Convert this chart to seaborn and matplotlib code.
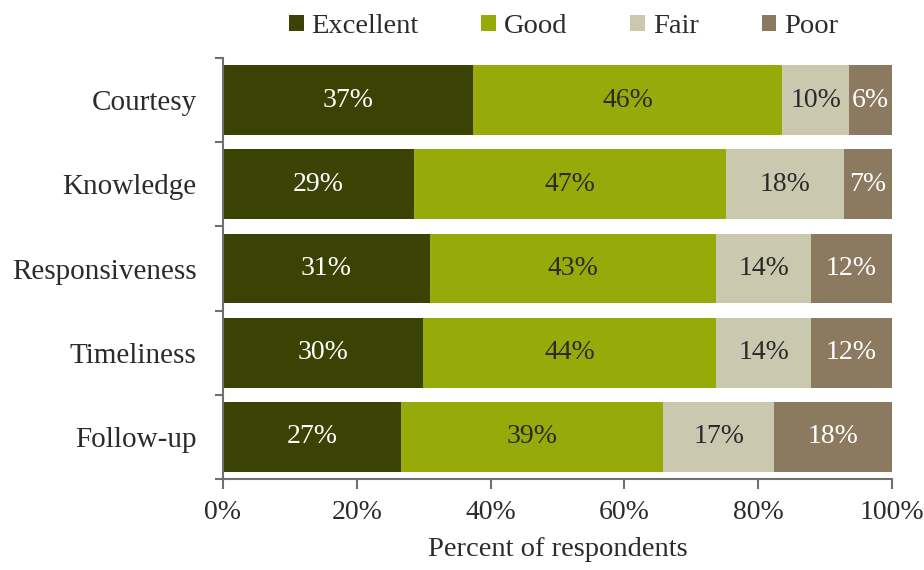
import matplotlib
matplotlib.use("Agg")
import matplotlib.pyplot as plt
from matplotlib.patches import Patch
from matplotlib.ticker import FixedLocator, PercentFormatter
import numpy as np
import pandas as pd
import seaborn as sns

# Survey ratings, percent of respondents
aspects = ["Courtesy", "Knowledge", "Responsiveness", "Timeliness", "Follow-up"]
ratings = ["Excellent", "Good", "Fair", "Poor"]
excellent = [37.4, 28.6, 30.9, 29.9, 26.6]
good = [46.2, 46.6, 42.8, 43.8, 39.2]
fair = [10.0, 17.6, 14.2, 14.2, 16.6]
poor = [6.4, 7.2, 12.1, 12.1, 17.6]
x_ticks = [0, 20, 40, 60, 80, 100]

colors = ["#3B4304", "#96AB0A", "#CAC8AF", "#8C7A60"]
label_colors = ["white", "#2b2b2b", "#2b2b2b", "white"]

sns.set_theme(style="white")
plt.rcParams["font.family"] = ["Liberation Serif", "DejaVu Serif"]

series = [excellent, good, fair, poor]
df = pd.DataFrame({"aspect": aspects})
for name, vals in zip(ratings, series):
    df[name] = vals
cum = df[ratings].cumsum(axis=1)

fig = plt.figure(figsize=(9.24, 5.70), dpi=100)
ax = fig.add_axes([0.2413, 0.1596, 0.7241, 0.7386])

# Stack by overlaying cumulative totals, widest first
for name, color in reversed(list(zip(ratings, colors))):
    sns.barplot(data=cum.assign(aspect=df["aspect"]), x=name, y="aspect",
                order=aspects, color=color, width=0.83, saturation=1,
                edgecolor="none", linewidth=0, ax=ax)

# Segment value labels
for j, name in enumerate(ratings):
    starts = cum[name] - df[name]
    for i, (s, v) in enumerate(zip(starts, df[name])):
        ax.text(s + v / 2, i, f"{v:.0f}%", ha="center", va="center",
                fontsize=20, color=label_colors[j])

ax.set_xlim(0, 100)
ax.set_ylim(4.5, -0.5)
ax.set_xticks(x_ticks)
ax.xaxis.set_major_formatter(PercentFormatter(decimals=0))
ax.set_xlabel("Percent of respondents", fontsize=20.5, color="#2b2b2b", labelpad=9)
ax.set_ylabel("")

spine_color = "#707070"
for side in ["top", "right"]:
    ax.spines[side].set_visible(False)
for side in ["left", "bottom"]:
    ax.spines[side].set_color(spine_color)
    ax.spines[side].set_linewidth(1.5)

ax.tick_params(axis="x", which="major", direction="out", length=7, width=1.5,
               color=spine_color, labelsize=20, labelcolor="#2b2b2b", pad=8,
               bottom=True)
ax.tick_params(axis="y", which="major", length=0, labelsize=21,
               labelcolor="#2b2b2b", pad=19)
ax.yaxis.set_minor_locator(FixedLocator(np.arange(-0.5, len(aspects), 1.0)))
ax.tick_params(axis="y", which="minor", direction="out", length=6, width=1.5,
               color=spine_color, left=True)

handles = [Patch(facecolor=c, edgecolor="none") for c in colors]
fig.legend(handles, ratings, loc="center", bbox_to_anchor=(0.61, 0.953),
           ncol=4, frameon=False, fontsize=20.5, handlelength=0.52,
           handleheight=0.52, handletextpad=0.28, columnspacing=2.2,
           labelcolor="#2b2b2b")

fig.savefig("out.png", dpi=100)
